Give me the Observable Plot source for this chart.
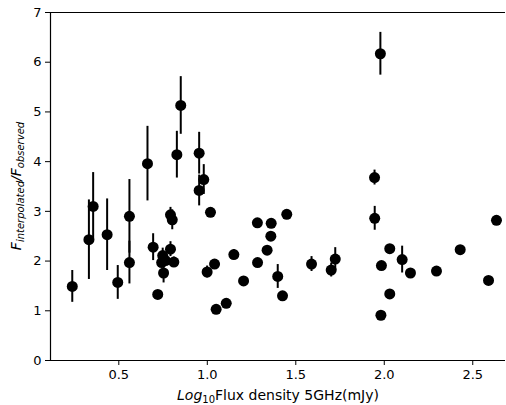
<!DOCTYPE html>
<html><head><meta charset="utf-8">
<script src="https://cdn.jsdelivr.net/npm/d3@7"></script>
<script src="https://cdn.jsdelivr.net/npm/@observablehq/plot@0.6"></script>
<style>
html,body{margin:0;padding:0;background:#fff;}
svg{font-family:"DejaVu Sans",sans-serif;}
</style>
</head><body>
<div id="chart"></div>
<script>
const xs = [0.237,0.331,0.355,0.434,0.494,0.560,0.560,0.662,0.694,0.720,0.748,0.742,0.753,0.764,0.792,0.792,0.802,0.811,0.828,0.850,0.954,0.954,0.980,1.018,0.999,1.041,1.050,1.107,1.150,1.205,1.283,1.284,1.338,1.359,1.361,1.449,1.398,1.425,1.589,1.700,1.723,1.978,1.945,1.946,2.031,1.984,2.101,2.148,2.295,2.031,1.981,2.429,2.589,2.634];
const ys = [1.49,2.43,3.10,2.53,1.57,2.90,1.97,3.96,2.28,1.33,2.11,1.97,1.76,2.01,2.24,2.93,2.83,1.98,4.14,5.13,4.17,3.42,3.64,2.98,1.78,1.94,1.03,1.15,2.13,1.60,2.77,1.97,2.22,2.50,2.76,2.94,1.69,1.30,1.94,1.82,2.04,6.17,3.68,2.86,2.25,1.91,2.03,1.76,1.80,1.34,0.91,2.23,1.61,2.82];
const yerr = [0.32,0.80,0.68,0.72,0.34,0.74,0.43,0.75,0.27,0.07,0.15,0.10,0.20,0.10,0.15,0.15,0.20,0.10,0.47,0.58,0.42,0.31,0.30,0.08,0.12,0.07,0.04,0.04,0.10,0.05,0.08,0.04,0.08,0.05,0.07,0.08,0.24,0.04,0.15,0.14,0.23,0.43,0.15,0.24,0.05,0.08,0.27,0.04,0.04,0.08,0.03,0.04,0.03,0.07];
const xTicks = [0.5,1.0,1.5,2.0,2.5];
const yTicks = [0,1,2,3,4,5,6,7];

const data = xs.map((x,i)=>({x, y: ys[i], lo: ys[i]-yerr[i], hi: ys[i]+yerr[i]}));

const W = 506, H = 405, mL = 50, mR = 1, mT = 12, mB = 45;
const plot = Plot.plot({
  width: W, height: H,
  marginLeft: mL, marginRight: mR, marginTop: mT, marginBottom: mB,
  style: {fontFamily: "DejaVu Sans, sans-serif", fontSize: "13px", color: "#000", background: "#fff", overflow: "visible"},
  x: {domain: [0.114, 2.685], ticks: xTicks, tickFormat: d3.format(".1f"), label: null, tickSize: 5, tickPadding: 4},
  y: {domain: [0, 7], ticks: yTicks, tickFormat: d3.format("d"), label: null, tickSize: 5, tickPadding: 4},
  marks: [
    Plot.ruleX(data, {x: "x", y1: "lo", y2: "hi", stroke: "#000", strokeWidth: 2}),
    Plot.dot(data, {x: "x", y: "y", r: 5.5, fill: "#000", stroke: "none"}),
    Plot.axisX({ticks: xTicks, tickFormat: d3.format(".1f"), tickSize: 5, tickPadding: 4, label: null, fontSize: 13}),
    Plot.axisY({ticks: yTicks, tickFormat: d3.format("d"), tickSize: 5, tickPadding: 4, label: null, fontSize: 13}),
    Plot.ruleY([0], {stroke: "#000", strokeWidth: 1.2}),
    Plot.ruleY([7], {stroke: "#000", strokeWidth: 1.2}),
    Plot.ruleX([0.114], {stroke: "#000", strokeWidth: 1.2})
  ]
});
document.getElementById("chart").appendChild(plot);

const svg = d3.select(plot);
// x label
const xl = svg.append("text")
  .attr("x", 278).attr("y", 400)
  .attr("text-anchor", "middle")
  .attr("font-size", 14).attr("fill", "#000");
xl.append("tspan").attr("font-style", "italic").text("Log");
xl.append("tspan").attr("font-size", 10).attr("dy", 3).text("10");
xl.append("tspan").attr("dy", -3).text("Flux density 5GHz(mJy)");
// y label
const yl = svg.append("text")
  .attr("transform", "translate(21,186) rotate(-90)")
  .attr("text-anchor", "middle")
  .attr("font-size", 14).attr("fill", "#000").attr("font-style", "italic");
yl.append("tspan").text("F");
yl.append("tspan").attr("font-size", 10).attr("dy", 3).text("interpolated");
yl.append("tspan").attr("dy", -3).text("/F");
yl.append("tspan").attr("font-size", 10).attr("dy", 3).text("observed");
</script>
</body></html>
